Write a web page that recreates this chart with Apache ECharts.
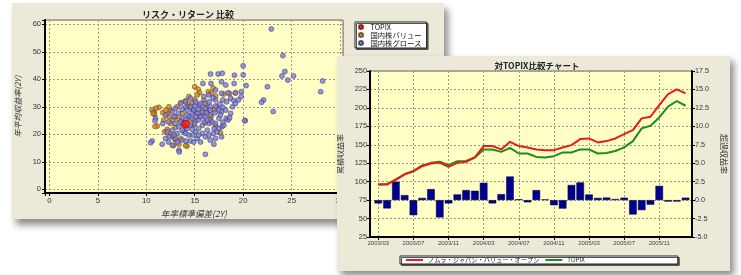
<!DOCTYPE html>
<html>
<head>
<meta charset="utf-8">
<script src="https://cdn.jsdelivr.net/npm/echarts@6/dist/echarts.min.js"></script>
<style>
html, body { margin: 0; padding: 0; background: #fff; width: 741px; height: 275px; overflow: hidden; }
#risk { position: absolute; left: 12px; top: 3px; width: 432px; height: 216px; box-shadow: 4px 6px 7px rgba(0,0,0,0.45); }
#topix { position: absolute; left: 337px; top: 56px; width: 393px; height: 215px; box-shadow: 4px 5px 7px rgba(0,0,0,0.45); }
</style>
</head>
<body>
<div id="risk"></div>
<div id="topix"></div>
<script>
// ---- リスク・リターン 比較 (年率標準偏差, 年平均収益率) ----
var topixPoint = [[14.06, 23.7]];

var valuePoints = [
  [15.0, 37.3], [15.36, 36.4], [15.5, 35.1], [16.4, 35.5], [16.7, 34.9], [18.0, 34.6], [17.15, 33.9],
  [14.05, 32.2], [13.57, 31.5], [14.4, 33.7], [14.74, 31.2], [11.3, 29.8], [10.8, 28.2], [10.86, 27.2],
  [11.7, 27.8], [12.16, 27.3], [12.34, 26.4], [13.0, 26.4], [14.3, 31.0], [14.8, 29.1], [15.7, 29.1],
  [16.2, 30.3], [16.7, 26.4], [15.15, 27.8], [15.6, 26.4], [16.1, 24.2], [16.6, 25.2], [17.15, 23.0],
  [17.66, 20.5], [11.13, 23.0], [11.9, 20.9], [12.5, 20.0], [12.68, 19.1], [12.96, 18.1], [13.54, 18.5],
  [14.2, 15.7], [13.37, 16.4], [12.16, 21.8], [14.05, 22.7], [13.7, 23.9], [13.0, 22.5], [12.5, 23.9],
  [11.8, 25.2], [12.75, 25.2], [13.37, 25.4], [14.57, 25.2], [15.1, 25.2], [14.9, 23.3], [14.4, 30.0],
  [13.2, 30.0], [12.5, 28.8], [13.7, 27.6], [15.8, 27.0], [16.3, 28.2], [17.0, 28.8], [17.3, 30.0],
  [12.34, 30.0], [12.0, 28.8], [15.0, 32.5], [15.95, 32.5], [15.26, 34.3], [11.0, 29.5], [10.6, 28.8],
  [10.7, 27.6], [10.9, 22.8], [12.8, 15.9], [14.06, 15.9], [18.6, 34.8], [19.2, 35.0], [16.9, 36.8]
];

var growthPoints = [
  [22.9, 58.3], [24.1, 48.6], [20.0, 44.9], [20.0, 41.6], [24.3, 42.8], [24.0, 41.2], [24.6, 39.7],
  [25.2, 41.2], [28.2, 39.4], [28.0, 35.5], [22.5, 37.3], [20.3, 37.7], [22.1, 32.5], [21.9, 31.6],
  [23.1, 28.3], [20.2, 25.0],
  [16.63, 41.9], [17.42, 41.9], [17.84, 42.2], [19.1, 41.5], [15.84, 38.5], [16.67, 38.5], [17.77, 39.1],
  [18.2, 37.9], [19.07, 38.5], [17.15, 36.1], [17.77, 34.9], [18.45, 35.1], [19.2, 35.1], [19.8, 35.5],
  [17.9, 32.5], [18.7, 33.1], [19.04, 32.2], [19.5, 32.5], [19.8, 33.7], [17.15, 32.5], [16.5, 31.8],
  [16.05, 31.2], [15.5, 30.6], [15.0, 30.3], [14.57, 30.0], [14.05, 29.8], [17.9, 29.8], [17.5, 28.8],
  [17.1, 27.8], [15.8, 28.2], [15.26, 27.6], [14.74, 27.8], [14.4, 26.6], [16.05, 26.4], [16.6, 27.0],
  [17.5, 25.8], [18.25, 25.8], [18.45, 25.2], [13.3, 27.6], [12.85, 26.4], [10.96, 25.8], [10.9, 24.9],
  [11.7, 23.9], [12.3, 24.5], [12.96, 23.9], [13.37, 22.7], [13.9, 23.9], [14.57, 23.3], [15.0, 23.9],
  [15.4, 25.2], [15.8, 23.3], [16.5, 23.9], [17.0, 22.1], [17.3, 20.9], [16.9, 20.3], [17.8, 22.7],
  [18.0, 23.3], [16.3, 21.5], [15.8, 20.3], [15.1, 20.9], [14.4, 19.7], [13.9, 20.9], [13.2, 20.3],
  [12.7, 21.5], [12.34, 19.1], [13.0, 18.5], [13.7, 17.9], [14.57, 17.6], [15.26, 18.5], [16.1, 19.1],
  [17.15, 18.5], [17.77, 19.1], [16.98, 16.4], [14.1, 17.6], [14.9, 17.2], [16.1, 12.7], [13.37, 14.2],
  [13.4, 13.6], [11.65, 16.4], [10.6, 17.6], [10.45, 16.9], [12.3, 17.2], [12.7, 16.0], [20.17, 24.9],
  [13.7, 25.8], [14.05, 25.2], [14.74, 25.8], [15.1, 26.4], [15.6, 26.4], [16.0, 24.5], [16.3, 25.2],
  [16.8, 24.5], [17.15, 23.9], [17.5, 22.1], [15.4, 22.1], [14.74, 21.8], [14.2, 22.1], [13.7, 21.5],
  [14.05, 20.3], [14.8, 19.7], [15.4, 19.7], [16.46, 19.7], [16.6, 17.9], [15.6, 17.2], [13.2, 17.2],
  [12.85, 19.7], [12.16, 20.9], [11.99, 18.5], [13.54, 24.5], [14.2, 27.0], [14.9, 28.8], [15.4, 29.1],
  [16.1, 29.4], [16.6, 30.0], [17.15, 30.3], [16.6, 28.8], [16.2, 27.8], [15.6, 31.2], [15.1, 31.8],
  [17.77, 28.2], [18.2, 28.8], [18.7, 27.6], [17.66, 27.0], [14.2, 28.8], [13.7, 29.1], [13.0, 29.4],
  [12.68, 28.2], [12.0, 27.0], [15.95, 33.7], [16.46, 34.3], [14.57, 33.1], [14.05, 31.8], [13.54, 31.2],
  [18.3, 31.8], [18.9, 30.0], [19.2, 31.2], [17.6, 31.0], [16.9, 33.2], [18.6, 26.0], [17.9, 24.4]
];

// ---- 対TOPIX比較チャート ----
var months = [
  '2003/03', '2003/04', '2003/05', '2003/06', '2003/07', '2003/08', '2003/09', '2003/10', '2003/11', '2003/12',
  '2004/01', '2004/02', '2004/03', '2004/04', '2004/05', '2004/06', '2004/07', '2004/08', '2004/09', '2004/10',
  '2004/11', '2004/12', '2005/01', '2005/02', '2005/03', '2005/04', '2005/05', '2005/06', '2005/07', '2005/08',
  '2005/09', '2005/10', '2005/11', '2005/12', '2006/01', '2006/02'
];
var labelMonths = ['2003/03', '2003/07', '2003/11', '2004/03', '2004/07', '2004/11', '2005/03', '2005/07', '2005/11'];

var fundCum = [96, 96, 103, 110, 114, 121, 124.7, 126, 120, 125.5,
  127, 132.8, 148.2, 148.2, 143.7, 154, 148.2, 146.4, 143.7, 142.7,
  142.7, 146.4, 149.5, 157.7, 158.6, 153.2, 155, 158.6, 164.5, 169.9,
  185.8, 188, 203.8, 218.8, 225.2, 219.7];
var topixCum = [96, 97, 102.5, 110, 114.5, 122, 125.5, 127, 122.4, 127.8,
  128, 132.8, 143.7, 143.7, 140.4, 145.9, 138.2, 138.2, 133.6, 132.8,
  134.6, 139.6, 139.6, 143.7, 143.7, 138.2, 138.8, 141.5, 146.4, 155,
  172.2, 175.7, 187.1, 201.6, 209.3, 202.9];
var excessRet = [-0.45, -1.13, 2.49, 0.68, -2.04, 0.3, 1.49, -2.35, -0.45, 0.77,
  1.36, 1.27, 2.35, -0.45, 0.81, 3.2, 0.12, -0.3, 1.36, 0.1,
  -0.7, -1.15, 2.05, 2.4, 0.76, 0.3, 0.35, 0.15, 0.33, -1.95,
  -1.36, -0.62, 1.93, -0.2, -0.2, 0.33];

var FONT_JP = '"Noto Sans CJK JP", sans-serif';
var FONT_NUM = '"Liberation Sans", Arial, sans-serif';
var PANEL = '#ECE9D8';
var PLOT = '#FFFFC6';
var gridLine = { show: true, lineStyle: { color: '#9d9b86', type: [2, 2], width: 1 } };

// left chart
var riskChart = echarts.init(document.getElementById('risk'));
riskChart.setOption({
  animation: false,
  backgroundColor: PANEL,
  textStyle: { fontFamily: FONT_JP },
  title: {
    text: 'リスク・リターン 比較', left: 171, top: 2, textAlign: 'center',
    textStyle: { fontSize: 9, fontWeight: 'bold', color: '#222', fontFamily: FONT_JP }
  },
  legend: {
    orient: 'vertical', left: 343, top: 19,
    data: ['TOPIX', '国内株バリュー', '国内株グロース'],
    backgroundColor: '#fff', borderColor: '#222', borderWidth: 1,
    shadowColor: '#555', shadowOffsetX: 1.5, shadowOffsetY: 1.5, shadowBlur: 0,
    padding: [1, 5, 1, 3], itemGap: 0, itemWidth: 9, itemHeight: 4, itemTextGap: 3,
    icon: 'circle',
    textStyle: { fontSize: 7.3, color: '#111', lineHeight: 8, fontFamily: FONT_JP }
  },
  grid: { left: 33, top: 17, width: 298, height: 173, outerBoundsMode: 'none', show: true, backgroundColor: PLOT, borderColor: '#666', borderWidth: 1 },
  xAxis: {
    type: 'value', min: -0.45, max: 30.3,
    name: '年率標準偏差(2Y)', nameLocation: 'middle', nameGap: 17,
    nameTextStyle: { fontSize: 8.5, fontStyle: 'italic', color: '#333', fontFamily: FONT_JP },
    axisLine: { onZero: false, lineStyle: { color: '#000', width: 2 } },
    axisTick: { length: 3, lineStyle: { color: '#000' } },
    axisLabel: { fontSize: 7.8, color: '#333', margin: 4, fontFamily: FONT_NUM,
      formatter: function (v) { return v % 5 === 0 ? String(v) : ''; } },
    splitLine: gridLine
  },
  yAxis: {
    type: 'value', min: -1.35, max: 61.55,
    name: '年平均収益率(2Y)', nameLocation: 'middle', nameGap: 20,
    nameTextStyle: { fontSize: 8, fontStyle: 'italic', color: '#333', fontFamily: FONT_JP },
    axisLine: { onZero: false, lineStyle: { color: '#000', width: 2 } },
    axisTick: { length: 3, lineStyle: { color: '#000' } },
    axisLabel: { fontSize: 7.5, color: '#333', margin: 4, fontFamily: FONT_NUM,
      formatter: function (v) { return v % 10 === 0 ? String(v) : ''; } },
    splitLine: gridLine
  },
  series: [{
    name: '国内株バリュー', type: 'scatter', data: valuePoints, symbolSize: 5, z: 3,
    itemStyle: { color: '#D0802A', borderColor: '#5a3a12', borderWidth: 0.6 }
  }, {
    name: '国内株グロース', type: 'scatter', data: growthPoints, symbolSize: 5, z: 4,
    itemStyle: { color: '#7A7ADE', borderColor: '#2a2a66', borderWidth: 0.6 }
  }, {
    name: 'TOPIX', type: 'scatter', data: topixPoint, symbolSize: 8, z: 5,
    itemStyle: { color: '#FF1010', borderColor: '#800000', borderWidth: 0.6 }
  }]
});

// right chart
var fundName = 'ノムラ・ジャパン・バリュー・オープン';
var tickIdx = labelMonths.map(function (m) { return months.indexOf(m); });
var topixChart = echarts.init(document.getElementById('topix'));
topixChart.setOption({
  animation: false,
  backgroundColor: PANEL,
  textStyle: { fontFamily: FONT_JP },
  title: {
    text: '対TOPIX比較チャート', left: 195, top: 1, textAlign: 'center',
    textStyle: { fontSize: 8.5, fontWeight: 'bold', color: '#222', fontFamily: FONT_JP }
  },
  legend: {
    left: 63, top: 200,
    data: [fundName, 'TOPIX'],
    backgroundColor: '#fff', borderColor: '#222', borderWidth: 1,
    shadowColor: '#555', shadowOffsetX: 1.5, shadowOffsetY: 1.5, shadowBlur: 0,
    padding: [0, 93, 0, 5], itemGap: 5, itemWidth: 17, itemHeight: 2, itemTextGap: 2,
    textStyle: { fontSize: 6.2, color: '#222', lineHeight: 8, fontFamily: FONT_JP }
  },
  grid: { left: 33, top: 15, width: 322, height: 166, outerBoundsMode: 'none', show: true, backgroundColor: PLOT, borderColor: '#666', borderWidth: 1 },
  xAxis: {
    type: 'value', min: -0.945, max: 35.73,
    axisLine: { onZero: false, lineStyle: { color: '#000', width: 2 } },
    axisTick: { customValues: tickIdx, length: 3, lineStyle: { color: '#000' } },
    axisLabel: { customValues: tickIdx, fontSize: 6, color: '#444', margin: 3, fontFamily: FONT_NUM,
      formatter: function (v) { return months[v]; } },
    splitLine: gridLine
  },
  yAxis: [{
    type: 'value', min: 25, max: 250, interval: 25, position: 'left',
    name: '累積収益率', nameLocation: 'middle', nameGap: 22,
    nameTextStyle: { fontSize: 8, color: '#333', fontFamily: FONT_JP },
    axisLine: { show: true, onZero: false, lineStyle: { color: '#000', width: 2 } },
    axisTick: { show: true, length: 3, lineStyle: { color: '#000' } },
    axisLabel: { fontSize: 7.4, color: '#333', margin: 3, fontFamily: FONT_NUM },
    splitLine: gridLine
  }, {
    type: 'value', min: -5, max: 17.5, interval: 2.5, position: 'right',
    name: '超過収益率', nameLocation: 'middle', nameGap: 26, nameRotate: -90,
    nameTextStyle: { fontSize: 8, color: '#333', fontFamily: FONT_JP },
    axisLine: { show: true, onZero: false, lineStyle: { color: '#000', width: 2 } },
    axisTick: { show: true, length: 3, lineStyle: { color: '#000' } },
    axisLabel: { fontSize: 7.2, color: '#333', margin: 3, fontFamily: FONT_NUM,
      formatter: function (v) { return v.toFixed(1); } },
    splitLine: { show: false }
  }],
  series: [{
    name: '超過収益率', type: 'bar', yAxisIndex: 1, barWidth: 7.6,
    data: excessRet.map(function (v, i) { return [i, v]; }),
    itemStyle: { color: '#00008E', borderColor: '#000044', borderWidth: 0.5 }
  }, {
    name: 'TOPIX', type: 'line', yAxisIndex: 0, symbol: 'none', z: 4,
    data: topixCum.map(function (v, i) { return [i, v]; }),
    lineStyle: { color: '#1E8C1E', width: 2 }, itemStyle: { color: '#1E8C1E' }
  }, {
    name: fundName, type: 'line', yAxisIndex: 0, symbol: 'none', z: 5,
    data: fundCum.map(function (v, i) { return [i, v]; }),
    lineStyle: { color: '#F01818', width: 2 }, itemStyle: { color: '#F01818' }
  }]
});
</script>
</body>
</html>
